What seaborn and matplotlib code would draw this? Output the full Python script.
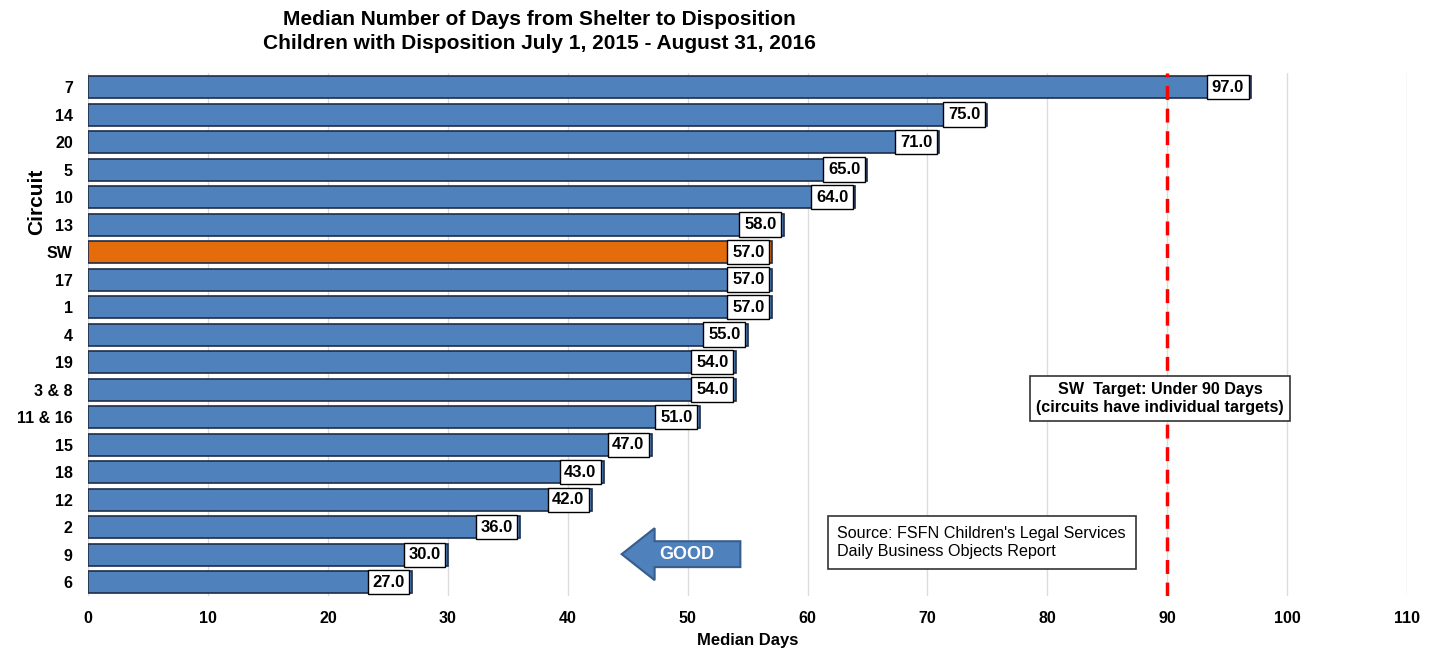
import matplotlib
matplotlib.use("Agg")
import matplotlib.pyplot as plt
import seaborn as sns
import pandas as pd
from matplotlib.patches import FancyArrow

circuits = ["7", "14", "20", "5", "10", "13", "SW", "17", "1", "4", "19", "3 & 8",
            "11 & 16", "15", "18", "12", "2", "9", "6"]
median_days = [97.0, 75.0, 71.0, 65.0, 64.0, 58.0, 57.0, 57.0, 57.0, 55.0, 54.0, 54.0,
               51.0, 47.0, 43.0, 42.0, 36.0, 30.0, 27.0]
groups = ["SW" if c == "SW" else "Circuit" for c in circuits]
x_ticks = [0, 10, 20, 30, 40, 50, 60, 70, 80, 90, 100, 110]
target = 90

sns.set_theme(style="white")
plt.rcParams['font.family'] = ['Liberation Sans', 'DejaVu Sans']
plt.rcParams['text.color'] = 'black'
plt.rcParams['axes.labelcolor'] = 'black'
plt.rcParams['xtick.color'] = 'black'
plt.rcParams['ytick.color'] = 'black'

df = pd.DataFrame({"Circuit": circuits, "Median Days": median_days, "Group": groups})

fig = plt.figure(figsize=(14.39, 6.54), dpi=100)
ax = fig.add_axes([0.0612, 0.0887, 0.9166, 0.7993])

sns.barplot(data=df, x="Median Days", y="Circuit", hue="Group", orient="h",
            palette={"Circuit": "#4f81bd", "SW": "#e46c0a"}, dodge=False, saturation=1,
            width=0.8, edgecolor="#1f2d4a", linewidth=1.2, legend=False, ax=ax, zorder=3)

ax.set_xlim(0, 110)
ax.set_ylim(len(circuits) - 0.5, -0.5)
ax.set_xticks(x_ticks)
ax.set_xticklabels([str(t) for t in x_ticks], fontsize=11.5, fontweight="bold")
ax.set_yticks(range(len(circuits)))
ax.set_yticklabels(circuits, fontsize=11.5, fontweight="bold")
ax.tick_params(axis="x", length=0, pad=11)
ax.tick_params(axis="y", length=0, pad=11)
ax.xaxis.grid(True, color="#dcdcdc", linewidth=1, zorder=0)
ax.yaxis.grid(False)
ax.set_axisbelow(True)
for s in ax.spines.values():
    s.set_visible(False)

ax.set_xlabel("Median Days", fontsize=12, fontweight="bold", labelpad=5)
ax.set_ylabel("Circuit", fontsize=15, fontweight="bold")
ax.yaxis.set_label_coords(-0.032, 0.755)

# value labels
for i, v in enumerate(median_days):
    ax.text(v - 0.6, i, f"{v:.1f}", ha="right", va="center", fontsize=12,
            fontweight="bold", zorder=5,
            bbox=dict(boxstyle="square,pad=0.28", facecolor="white", edgecolor="black", linewidth=1))

# target line
ax.axvline(target, color="#ff0000", linewidth=2.5, linestyle=(0, (4, 2.5)), zorder=4)

ax.text(89.4, 11.32, "SW  Target: Under 90 Days\n(circuits have individual targets)",
        ha="center", va="center", fontsize=11.6, fontweight="bold", zorder=6,
        linespacing=1.25,
        bbox=dict(boxstyle="square,pad=0.4", facecolor="white", edgecolor="#333333", linewidth=1.2))

ax.text(62.5, 16.55, "Source: FSFN Children's Legal Services\nDaily Business Objects Report",
        ha="left", va="center", fontsize=11.6, zorder=6, linespacing=1.25,
        bbox=dict(boxstyle="square,pad=0.6", facecolor="white", edgecolor="#333333", linewidth=1.2))

# GOOD arrow
arrow = FancyArrow(54.4, 16.98, -9.9, 0, width=0.94, head_width=1.89, head_length=2.75,
                   length_includes_head=True, facecolor="#4f81bd", edgecolor="#385d8a",
                   linewidth=1.5, zorder=6)
ax.add_patch(arrow)
ax.text(49.9, 16.98, "GOOD", ha="center", va="center", color="white", fontsize=13,
        fontweight="bold", zorder=7)

fig.text(0.375, 0.970, "Median Number of Days from Shelter to Disposition", ha="center",
         va="center", fontsize=15, fontweight="bold")
fig.text(0.375, 0.934, "Children with Disposition July 1, 2015 - August 31, 2016", ha="center",
         va="center", fontsize=15, fontweight="bold")

fig.savefig("out.png", dpi=100, facecolor="white")
